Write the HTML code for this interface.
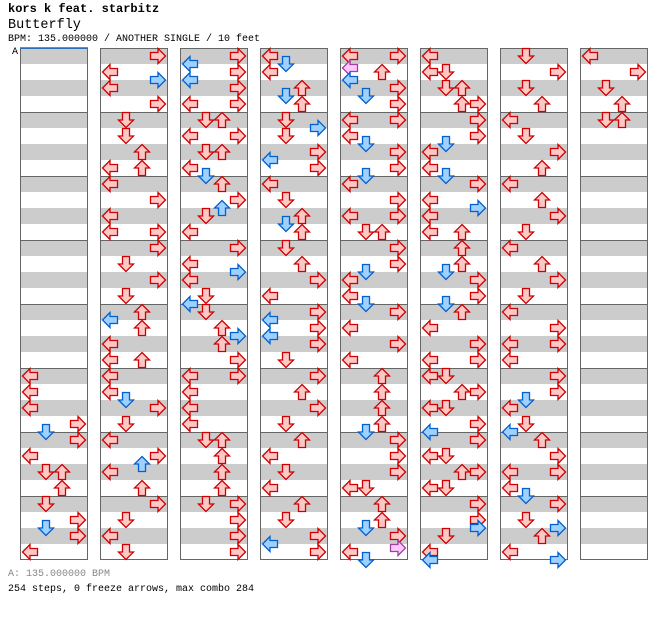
<!DOCTYPE html>
<html><head><meta charset="utf-8"><style>
body{margin:0;background:#fff;width:672px;height:620px;overflow:hidden;position:relative;font-family:"Liberation Mono","DejaVu Sans Mono",monospace}
.t{position:absolute;left:8px;white-space:pre;line-height:1}
</style></head><body>
<div class="t" style="top:3px;font-size:12px;font-weight:bold">kors k feat. starbitz</div>
<div class="t" style="top:19px;font-size:13.5px">Butterfly</div>
<div class="t" style="top:35px;font-size:10px">BPM: 135.000000 / ANOTHER SINGLE / 10 feet</div>
<div class="t" style="top:48px;left:12px;font-size:10px">A</div>
<div class="t" style="top:570px;font-size:10px;color:#888">A: 135.000000 BPM</div>
<div class="t" style="top:585px;font-size:10px">254 steps, 0 freeze arrows, max combo 284</div>
<svg id="s" width="672" height="620" style="position:absolute;left:0;top:0" xmlns="http://www.w3.org/2000/svg"></svg>
<script>
var cols=[
"40L 42L 44L 46R 47Db 48R 50L 52D 52U 54U 56D 58R 59Db 60R 62L",
"0R 2L 3Rb 4L 6R 8D 10D 12U 14L 14U 16L 18R 20L 22L 22R 24R 26D 28R 30D 32U 33Lb 34U 36L 38L 38U 40L 42L 43Db 44R 46D 48L 50R 51Ub 52L 54U 56R 58D 60L 62D",
"0R 1Lb 2R 3Lb 4R 6L 6R 8D 8U 10L 10R 12D 12U 14L 15Db 16U 18R 19Ub 20D 22L 24R 26L 27Rb 28L 30D 31Lb 32D 34U 35Rb 36U 38R 40L 40R 42L 44L 46L 48D 48U 50U 52U 54U 56D 56R 58R 60R 62R",
"0L 1Db 2L 4U 5Db 6U 8D 9Rb 10D 12R 13Lb 14R 16L 18D 20U 21Db 22U 24D 26U 28R 30L 32R 33Lb 34R 35Lb 36R 38D 40R 42U 44R 46D 48U 50L 52D 54L 56U 58D 60R 61Lb 62R",
"0L 0R 1.5Lp 2U 3Lb 4R 5Db 6R 8L 8R 10L 11Db 12R 14R 15Db 16L 18R 20L 20R 22D 22U 24R 26R 27Db 28L 30L 31Db 32R 34L 36R 38L 40U 42U 44U 46U 47Db 48R 50R 52R 54L 54D 56U 58U 59Db 60R 61.5Rp 62L 63Db",
"0L 2L 2D 4D 4U 6U 6R 8R 10R 11Db 12L 14L 15Db 16R 18L 19Rb 20L 22L 22U 24U 26U 27Db 28R 30R 31Db 32U 34L 36R 38L 38R 40L 40D 42U 42R 44L 44D 46R 47Lb 48R 50L 50D 52U 52R 54L 54D 56R 58R 59Rb 60D 62L 63Lb",
"0D 2R 4D 6U 8L 10D 12R 14U 16L 18U 20R 22D 24L 26U 28R 30D 32L 34R 36L 36R 38L 40R 42R 43Db 44L 46D 47Lb 48U 50R 52L 52R 54L 55Db 56R 58D 59Rb 60U 62L 63Rb",
"0L 2R 4D 6U 8D 8U"];
var h='';
for(var c=0;c<8;c++){var x=20+80*c;
 for(var m=0;m<8;m++){var y=48+64*m;
  h+='<rect x="'+x+'" y="'+y+'" width="68" height="16" fill="#cccccc"/><rect x="'+x+'" y="'+(y+32)+'" width="68" height="16" fill="#cccccc"/>';
  if(m>0)h+='<line x1="'+x+'" x2="'+(x+68)+'" y1="'+(y+0.5)+'" y2="'+(y+0.5)+'" stroke="#666"/>';}
 h+='<rect x="'+(x+0.5)+'" y="48.5" width="67" height="511" fill="none" stroke="#666"/>';}
h+='<line x1="20" x2="88" y1="48" y2="48" stroke="#1a6fd0" stroke-width="1.5"/>';
var C={r:['#ffc8c8','#d00000'],b:['#a0d0ff','#0060d0'],p:['#ffc8ff','#a040a0']};
var ROT={L:0,D:-90,U:90,R:180},LN={L:0,D:1,U:2,R:3};
for(c=0;c<8;c++){cols[c].split(' ').forEach(function(t){
 var m=t.match(/^([\d.]+)([LDUR])([bp]?)$/);var R=parseFloat(m[1]);var d=m[2];var col=C[m[3]||'r'];
 var ax=20+80*c+2+16*LN[d],ay=48+8*R;
 h+='<g transform="translate('+(ax+8)+','+(ay+8)+') rotate('+ROT[d]+')"><path d="M-7.5,0 L0,-7.5 L0,-3.5 L7.5,-3.5 L7.5,3.5 L0,3.5 L0,7.5 Z" fill="'+col[0]+'" stroke="'+col[1]+'" stroke-width="1.3" stroke-linejoin="miter"/></g>';
});}
document.getElementById('s').innerHTML=h;
</script>
</body></html>
